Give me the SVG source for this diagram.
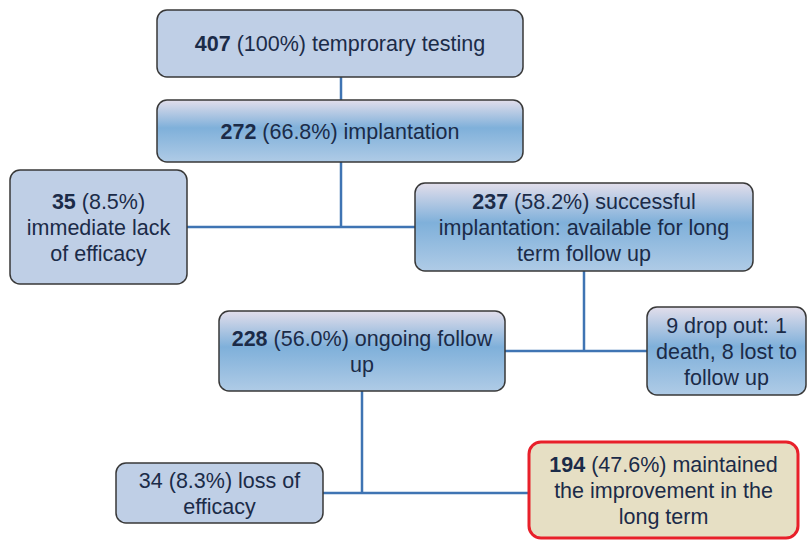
<svg xmlns="http://www.w3.org/2000/svg" width="807" height="541" viewBox="0 0 807 541">
<defs>
<linearGradient id="g" x1="0" y1="0" x2="0" y2="1">
<stop offset="0" stop-color="#e2deeb"/>
<stop offset="0.45" stop-color="#7fb0da"/>
<stop offset="1" stop-color="#afcbe6"/>
</linearGradient>
<style>
.flat{fill:#bfcfe6;stroke:#383838;stroke-width:1.5}
.grad{fill:url(#g);stroke:#383838;stroke-width:1.5}
.hl{fill:#e6dfc4;stroke:#e8202a;stroke-width:3}
text{font-family:"Liberation Sans",Arial,sans-serif;font-size:21.5px;fill:#1b2b48;text-anchor:middle}
.b{font-weight:bold}
.c{fill:none;stroke:#3f74b3;stroke-width:2.5}
</style>
</defs>
<rect width="807" height="541" fill="#ffffff"/>
<g id="connectors">
<line class="c" x1="341" y1="77" x2="341" y2="100"/>
<line class="c" x1="341" y1="162" x2="341" y2="227"/>
<line class="c" x1="187" y1="227" x2="415" y2="227"/>
<line class="c" x1="584" y1="271" x2="584" y2="351"/>
<line class="c" x1="505" y1="351" x2="647" y2="351"/>
<line class="c" x1="362" y1="391" x2="362" y2="493"/>
<line class="c" x1="323" y1="493" x2="529" y2="493"/>
</g>
<g id="n407">
<rect class="flat" x="157" y="10" width="366" height="67" rx="10"/>
<text x="340" y="51"><tspan class="b">407</tspan> (100%) temprorary testing</text>
</g>
<g id="n272">
<rect class="grad" x="157" y="100" width="366" height="62" rx="10"/>
<text x="340" y="138.5"><tspan class="b">272</tspan> (66.8%) implantation</text>
</g>
<g id="n35">
<rect class="flat" x="10" y="170" width="177" height="114" rx="10"/>
<text x="98.5" y="208.5"><tspan class="b">35</tspan> (8.5%)</text>
<text x="98.5" y="234.5">immediate lack</text>
<text x="98.5" y="260.5">of efficacy</text>
</g>
<g id="n237">
<rect class="grad" x="415" y="183" width="338" height="88" rx="10"/>
<text x="584" y="208.5"><tspan class="b">237</tspan> (58.2%) successful</text>
<text x="584" y="234.5">implantation: available for long</text>
<text x="584" y="260.5">term follow up</text>
</g>
<g id="n228">
<rect class="grad" x="219" y="311" width="286" height="80" rx="10"/>
<text x="362" y="345.5"><tspan class="b">228</tspan> (56.0%) ongoing follow</text>
<text x="362" y="371.5">up</text>
</g>
<g id="n9">
<rect class="grad" x="647" y="307" width="159" height="88" rx="10"/>
<text x="726.5" y="332.5">9 drop out: 1</text>
<text x="726.5" y="358.5">death, 8 lost to</text>
<text x="726.5" y="384.5">follow up</text>
</g>
<g id="n34">
<rect class="flat" x="116" y="463" width="207" height="60" rx="10"/>
<text x="219.5" y="487.5">34 (8.3%) loss of</text>
<text x="219.5" y="513.5">efficacy</text>
</g>
<g id="n194">
<rect class="hl" x="529" y="442" width="269" height="96" rx="12"/>
<text x="663.5" y="472"><tspan class="b">194</tspan> (47.6%) maintained</text>
<text x="663.5" y="498">the improvement in the</text>
<text x="663.5" y="524">long term</text>
</g>
</svg>
